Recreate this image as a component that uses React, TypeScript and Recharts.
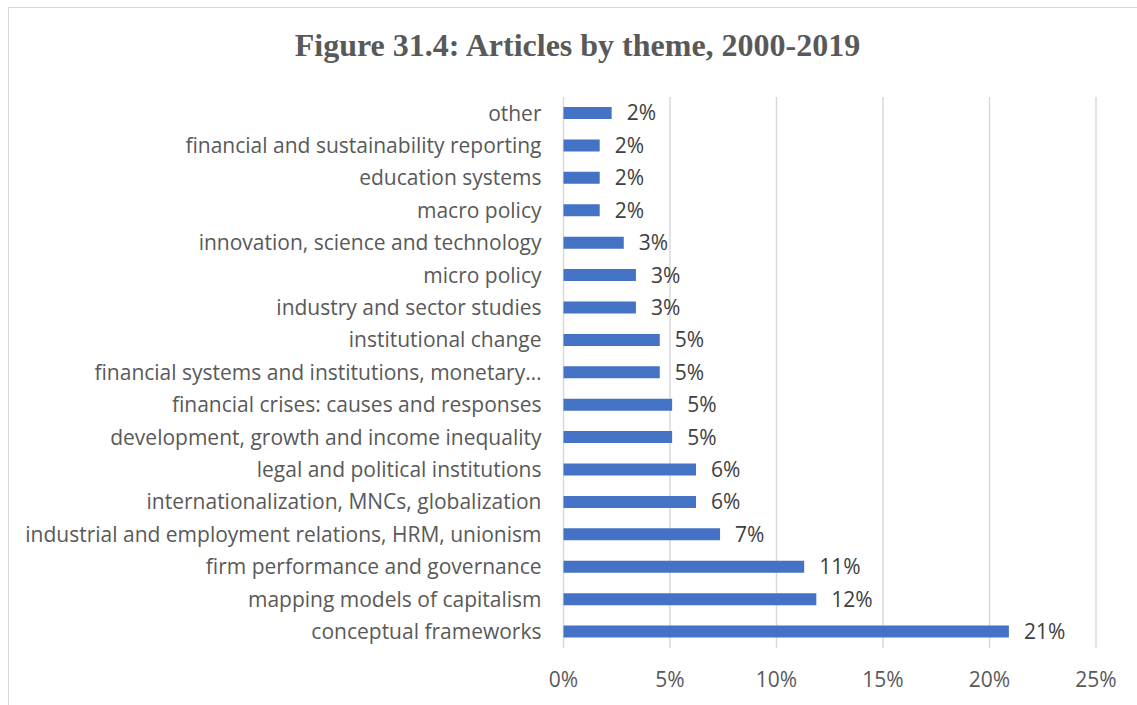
import { Bar, BarChart, CartesianGrid, LabelList, XAxis, YAxis } from 'recharts';

const themes = [
  'other',
  'financial and sustainability reporting',
  'education systems',
  'macro policy',
  'innovation, science and technology',
  'micro policy',
  'industry and sector studies',
  'institutional change',
  'financial systems and institutions, monetary…',
  'financial crises: causes and responses',
  'development, growth and income inequality',
  'legal and political institutions',
  'internationalization, MNCs, globalization',
  'industrial and employment relations, HRM, unionism',
  'firm performance and governance',
  'mapping models of capitalism',
  'conceptual frameworks',
];

const shares = [
  2.26, 1.7, 1.7, 1.7, 2.83, 3.4, 3.4, 4.52, 4.52, 5.1, 5.1, 6.22, 6.22, 7.35,
  11.3, 11.87, 20.91,
];

const xTicks = [0, 5, 10, 15, 20, 25];

const data = themes.map((theme, i) => ({ theme, share: shares[i] }));

const labelFont = '"Open Sans", "Noto Sans", sans-serif';
const textGrey = '#595959';

const ThemeTick = ({ x, y, payload }: any) => (
  <text
    x={x}
    y={y}
    dy="0.35em"
    textAnchor="end"
    fill={textGrey}
    fontSize={21}
    fontFamily={labelFont}
  >
    {payload.value}
  </text>
);

export default function App() {
  return (
    <div style={{ position: 'absolute', left: 0, top: 0, width: 1137, height: 705 }}>
      <style>{'body{overflow:hidden}'}</style>
      <div
        style={{
          position: 'absolute',
          left: 8,
          top: 7,
          width: 1129,
          height: 698,
          borderLeft: '1.5px solid #d9d9d9',
          borderTop: '1.5px solid #d9d9d9',
          boxSizing: 'border-box',
        }}
      />
      <div
        style={{
          position: 'absolute',
          left: 0,
          top: 27,
          width: 1155,
          textAlign: 'center',
          fontFamily: '"Liberation Serif", serif',
          fontWeight: 'bold',
          fontSize: 32,
          color: textGrey,
        }}
      >
        Figure 31.4: Articles by theme, 2000-2019
      </div>
      <div style={{ position: 'absolute', left: 0, top: 0 }}>
        <BarChart
          width={1137}
          height={705}
          data={data}
          layout="vertical"
          margin={{ top: 97, right: 41, bottom: 27, left: 0 }}
        >
          <CartesianGrid horizontal={false} stroke="#d9d9d9" strokeWidth={1.5} />
          <XAxis
            type="number"
            domain={[0, 25]}
            ticks={xTicks}
            tickFormatter={(v) => `${v}%`}
            axisLine={false}
            tickLine={false}
            tickMargin={18}
            height={30}
            tick={{ fill: textGrey, fontSize: 21, fontFamily: labelFont }}
          />
          <YAxis
            type="category"
            dataKey="theme"
            width={563.5}
            axisLine={false}
            tickLine={false}
            tickMargin={16}
            interval={0}
            tick={<ThemeTick />}
          />
          <Bar dataKey="share" fill="#4472C4" barSize={12} isAnimationActive={false}>
            <LabelList
              dataKey="share"
              position="right"
              offset={15}
              formatter={(v: any) => `${Math.round(v)}%`}
              fill="#404040"
              fontSize={21}
              fontFamily={labelFont}
            />
          </Bar>
        </BarChart>
      </div>
    </div>
  );
}
